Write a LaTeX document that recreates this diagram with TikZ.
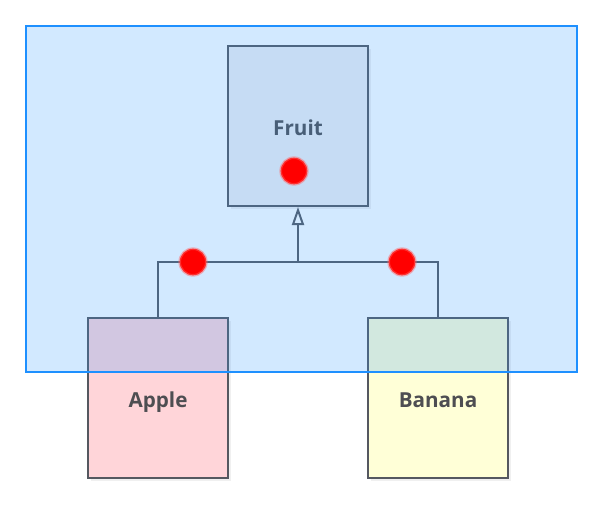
\documentclass[tikz,border=0pt]{standalone}
\usepackage{fontspec}
\setmainfont{Open Sans}
\usetikzlibrary{arrows.meta,shadows}

\definecolor{boxline}{RGB}{85,88,96}
\definecolor{boxtext}{RGB}{78,78,82}
\definecolor{fruitfill}{RGB}{240,240,242}
\definecolor{applefill}{RGB}{255,213,217}
\definecolor{bananafill}{RGB}{255,255,215}
\definecolor{groupblue}{RGB}{51,153,255}
\definecolor{groupline}{RGB}{30,144,255}

\tikzset{
  classbox/.style={draw=boxline, line width=1.5pt, minimum width=105pt, minimum height=120pt,
    inner sep=0pt, text height=13.8pt, text depth=0pt, text=boxtext,
    font=\bfseries\fontsize{15.5}{18}\selectfont,
    drop shadow={shadow xshift=2pt, shadow yshift=-2pt, opacity=0.12}},
  link/.style={draw=boxline, line width=1.5pt},
  reddot/.style={circle, fill=red, draw=red!60, draw opacity=0.45, line width=2pt,
    minimum size=20pt, inner sep=0pt},
}

\begin{document}
\begin{tikzpicture}[x=0.75pt,y=0.75pt,yscale=-1]
\useasboundingbox (0,0) rectangle (606,512);

% Classes
\node [classbox, fill=fruitfill] (fruit) at (298,126) {Fruit};
\node [classbox, fill=applefill] (apple) at (158,398) {Apple};
\node [classbox, fill=bananafill] (banana) at (438,398) {Banana};

% Inheritance lines
\coordinate (join) at (298,262);
\draw [link] (apple.north) |- (join) -| (banana.north);
\draw [link, -{Triangle[open, length=13.5pt, width=9pt, line width=1.5pt]}] (join) -- (fruit.south);

% Group area
\draw [draw=groupline, line width=0.9pt, fill=groupblue, fill opacity=0.22] (26,26) rectangle (577,372);

% Markers
\node [reddot] (dotfruit) at (294,171) {};
\node [reddot] (dotapple) at (193,262) {};
\node [reddot] (dotbanana) at (402,262) {};
\end{tikzpicture}
\end{document}
